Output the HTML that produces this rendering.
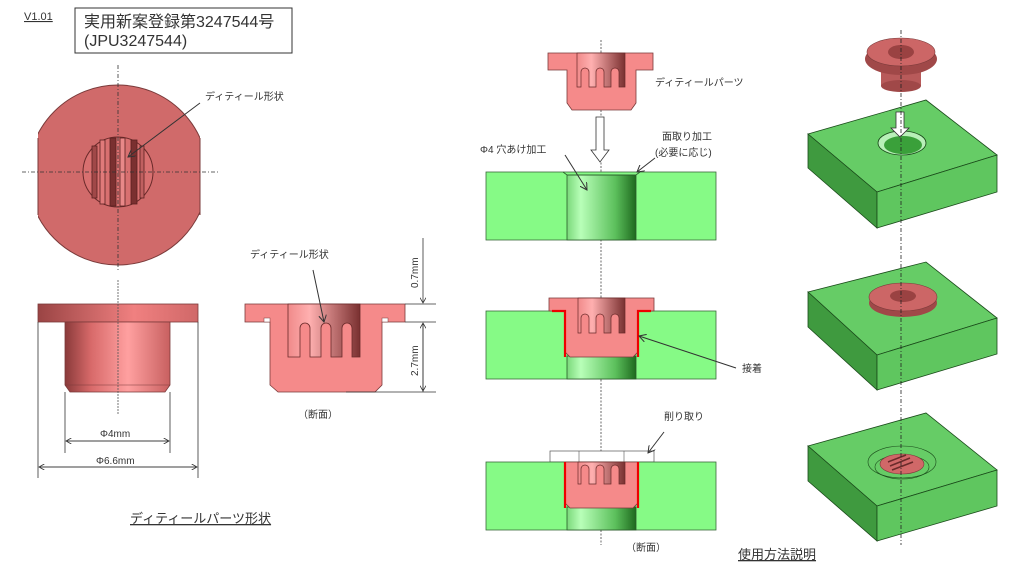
<!DOCTYPE html>
<html><head><meta charset="utf-8"><style>
html,body{margin:0;padding:0;background:#fff;}
svg{display:block;}
text{font-family:"Liberation Sans","Noto Sans CJK JP",sans-serif;fill:#333;}
</style></head><body>
<svg width="1024" height="576" viewBox="0 0 1024 576" xmlns="http://www.w3.org/2000/svg">
<defs>
<linearGradient id="cylR" x1="0" x2="1" y1="0" y2="0">
<stop offset="0" stop-color="#8a3a3a"/><stop offset="0.25" stop-color="#d86a6a"/><stop offset="0.6" stop-color="#ffa0a0"/><stop offset="1" stop-color="#c86060"/></linearGradient>
<linearGradient id="flR" x1="0" x2="1"><stop offset="0" stop-color="#9a4444"/><stop offset="0.6" stop-color="#f08080"/><stop offset="1" stop-color="#d06868"/></linearGradient>
<linearGradient id="inR" x1="0" x2="1"><stop offset="0" stop-color="#f08a8a"/><stop offset="0.3" stop-color="#ffb0b0"/><stop offset="1" stop-color="#7a3030"/></linearGradient>
<linearGradient id="cylG" x1="0" x2="1"><stop offset="0" stop-color="#7ad87a"/><stop offset="0.2" stop-color="#b8ffb8"/><stop offset="0.7" stop-color="#5cc05c"/><stop offset="1" stop-color="#1e6a1e"/></linearGradient>
<clipPath id="topclip"><rect x="38" y="60" width="162" height="220"/></clipPath>
<marker id="ah" markerWidth="8" markerHeight="8" refX="7" refY="4" orient="auto"><path d="M0,0 L7,4 L0,8" fill="none" stroke="#333" stroke-width="1"/></marker>
</defs>

<!-- header -->
<text x="24" y="20" font-size="11" text-decoration="underline" fill="#444">V1.01</text>
<rect x="75" y="8" width="217" height="45" fill="#fff" stroke="#333" stroke-width="1"/>
<text x="84" y="27" font-size="16" fill="#222">実用新案登録第3247544号</text>
<text x="84" y="46" font-size="16" fill="#222">(JPU3247544)</text>

<!-- top view -->
<circle cx="118" cy="175" r="90" fill="#d06a6a" stroke="#7a3a3a" stroke-width="1" clip-path="url(#topclip)"/>
<line x1="38" y1="138" x2="38" y2="215" stroke="#7a3a3a"/><line x1="200" y1="138" x2="200" y2="215" stroke="#7a3a3a"/>
<circle cx="118" cy="172" r="35" fill="#d87070" stroke="#6a2a2a"/>
<g fill="#b05050" stroke="#5a2020" stroke-width="0.8">
<rect x="92" y="146" width="5" height="52" fill="#a04848"/><rect x="100" y="140" width="5" height="64" fill="#e07a7a"/>
<rect x="110" y="138" width="6" height="68" fill="#7a3030"/><rect x="120" y="138" width="5" height="68" fill="#e88888"/>
<rect x="131" y="140" width="6" height="64" fill="#7a3030"/><rect x="140" y="146" width="4" height="52" fill="#c06060"/>
</g>
<line x1="118" y1="65" x2="118" y2="270" stroke="#333" stroke-dasharray="4,2,1,2" stroke-width="0.8"/>
<line x1="22" y1="172" x2="218" y2="172" stroke="#333" stroke-dasharray="4,2,1,2" stroke-width="0.8"/>
<text x="205" y="100" font-size="10">ディティール形状</text>
<line x1="200" y1="103" x2="128" y2="157" stroke="#333" marker-end="url(#ah)"/>

<!-- side view -->
<rect x="38" y="304" width="160" height="18" fill="url(#flR)" stroke="#7a3a3a" stroke-width="0.8"/>
<path d="M65,322 H170 V385 L165,392 H70 L65,385 Z" fill="url(#cylR)" stroke="#7a3a3a" stroke-width="0.8"/>
<line x1="65" y1="385" x2="170" y2="385" stroke="#7a3a3a" stroke-width="0.6"/>
<line x1="118" y1="280" x2="118" y2="415" stroke="#555" stroke-dasharray="2,1" stroke-width="0.8"/>
<g stroke="#333" stroke-width="0.8">
<line x1="65" y1="392" x2="65" y2="453"/><line x1="170" y1="392" x2="170" y2="453"/>
<line x1="38" y1="322" x2="38" y2="478"/><line x1="198" y1="322" x2="198" y2="478"/>
<line x1="66" y1="441" x2="169" y2="441" marker-end="url(#ah)"/><line x1="169" y1="441" x2="66" y2="441" marker-end="url(#ah)"/>
<line x1="39" y1="467" x2="197" y2="467" marker-end="url(#ah)"/><line x1="197" y1="467" x2="39" y2="467" marker-end="url(#ah)"/>
</g>
<text x="100" y="437" font-size="10">Φ4mm</text>
<text x="96" y="464" font-size="10">Φ6.6mm</text>

<!-- section view -->
<path d="M245,304 H405 V322 H382 V385 L375,392 H278 L270,385 V322 H245 Z" fill="#f58a8a" stroke="#7a3a3a" stroke-width="0.8"/>
<rect x="264" y="318" width="6" height="4" fill="#fff" stroke="#7a3a3a" stroke-width="0.5"/>
<rect x="382" y="318" width="6" height="4" fill="#fff" stroke="#7a3a3a" stroke-width="0.5"/>
<path d="M288,304 H360 V357 H352 V328 a5,5 0 0 0 -10,0 V357 H331 V328 a5,5 0 0 0 -10,0 V357 H310 V328 a5,5 0 0 0 -10,0 V357 H288 Z" fill="url(#inR)" stroke="#6a2a2a" stroke-width="0.8"/>
<text x="250" y="258" font-size="10">ディティール形状</text>
<line x1="313" y1="270" x2="324" y2="322" stroke="#333" marker-end="url(#ah)"/>
<g stroke="#333" stroke-width="0.8">
<line x1="405" y1="304" x2="436" y2="304"/><line x1="405" y1="322" x2="436" y2="322"/><line x1="346" y1="392" x2="436" y2="392"/>
<line x1="423" y1="238" x2="423" y2="303" marker-end="url(#ah)"/>
<line x1="423" y1="392" x2="423" y2="323" marker-end="url(#ah)"/><line x1="423" y1="323" x2="423" y2="391" marker-end="url(#ah)"/>
</g>
<text transform="translate(418,288) rotate(-90)" font-size="10">0.7mm</text>
<text transform="translate(418,376) rotate(-90)" font-size="10">2.7mm</text>
<text x="298" y="418" font-size="10">（断面）</text>
<text x="130" y="523" font-size="13" text-decoration="underline" fill="#222">ディティールパーツ形状</text>

<!-- middle column -->
<line x1="601" y1="40" x2="601" y2="545" stroke="#444" stroke-dasharray="2,1.5" stroke-width="0.8"/>
<path d="M548,53 H653 V70 H636 V103 L631,110 H572 L567,103 V70 H548 Z" fill="#f58a8a" stroke="#7a3a3a" stroke-width="0.8"/>
<path d="M577,53 H625 V87 H619 V72 a4,4 0 0 0 -8,0 V87 H604 V72 a4,4 0 0 0 -8,0 V87 H589 V72 a4,4 0 0 0 -8,0 V87 H577 Z" fill="url(#inR)" stroke="#6a2a2a" stroke-width="0.7"/>
<text x="655" y="86" font-size="10">ディティールパーツ</text>
<path d="M596,117 H604 V150 H609 L600,162 L591,150 H596 Z" fill="#fff" stroke="#333" stroke-width="0.8"/>
<rect x="486" y="172" width="230" height="68" fill="#86fa86" stroke="#3a6a3a" stroke-width="0.8"/>
<rect x="567" y="175" width="69" height="65" fill="url(#cylG)" stroke="#2a5a2a" stroke-width="0.8"/>
<path d="M563,172 L567,175 H636 L640,172" fill="none" stroke="#2a5a2a" stroke-width="0.8"/>
<text x="480" y="153" font-size="10">Φ4 穴あけ加工</text>
<line x1="565" y1="155" x2="587" y2="190" stroke="#333" marker-end="url(#ah)"/>
<text x="662" y="140" font-size="10">面取り加工</text>
<text x="655" y="156" font-size="10">(必要に応じ)</text>
<line x1="655" y1="158" x2="637" y2="172" stroke="#333" marker-end="url(#ah)"/>

<!-- block 2 -->
<rect x="486" y="311" width="230" height="68" fill="#86fa86" stroke="#3a6a3a" stroke-width="0.8"/>
<rect x="567" y="356" width="69" height="23" fill="url(#cylG)" stroke="#2a5a2a" stroke-width="0.8"/>
<path d="M549,298 H654 V311 H638 V352 L633,357 H570 L565,352 V311 H549 Z" fill="#f58a8a" stroke="#7a3a3a" stroke-width="0.8"/>
<path d="M552,311 H565 V357" fill="none" stroke="#e00" stroke-width="2.2"/>
<path d="M651,311 H638 V357" fill="none" stroke="#e00" stroke-width="2.2"/>
<path d="M578,298 H625 V333 H619 V318 a4,4 0 0 0 -8,0 V333 H604 V318 a4,4 0 0 0 -8,0 V333 H589 V318 a4,4 0 0 0 -8,0 V333 H578 Z" fill="url(#inR)" stroke="#6a2a2a" stroke-width="0.7"/>
<text x="742" y="372" font-size="10">接着</text>
<line x1="736" y1="368" x2="639" y2="336" stroke="#333" marker-end="url(#ah)"/>

<!-- block 3 -->
<rect x="550" y="451" width="104" height="11" fill="#fff" stroke="#555" stroke-width="0.7"/>
<line x1="579" y1="451" x2="579" y2="462" stroke="#555" stroke-width="0.6"/><line x1="624" y1="451" x2="624" y2="462" stroke="#555" stroke-width="0.6"/>
<rect x="486" y="462" width="230" height="68" fill="#86fa86" stroke="#3a6a3a" stroke-width="0.8"/>
<rect x="567" y="507" width="69" height="23" fill="url(#cylG)" stroke="#2a5a2a" stroke-width="0.8"/>
<path d="M565,462 H638 V503 L633,508 H570 L565,503 Z" fill="#f58a8a" stroke="#7a3a3a" stroke-width="0.8"/>
<path d="M565,462 V508 M638,462 V508" fill="none" stroke="#e00" stroke-width="2.2"/>
<path d="M578,462 H625 V484 H619 V469 a4,4 0 0 0 -8,0 V484 H604 V469 a4,4 0 0 0 -8,0 V484 H589 V469 a4,4 0 0 0 -8,0 V484 H578 Z" fill="url(#inR)" stroke="#6a2a2a" stroke-width="0.7"/>
<text x="664" y="420" font-size="10">削り取り</text>
<line x1="664" y1="432" x2="648" y2="453" stroke="#333" marker-end="url(#ah)"/>
<text x="626" y="551" font-size="10">（断面）</text>
<text x="738" y="559" font-size="13" text-decoration="underline" fill="#222">使用方法説明</text>

<!-- right column isometric -->
<g stroke="#1a4a1a" stroke-width="0.8">
<polygon points="808,134 926,100 997,155 877,192" fill="#66cc66"/>
<polygon points="808,134 877,192 877,228 808,168" fill="#3f9a3f"/>
<polygon points="877,192 997,155 997,192 877,228" fill="#5fc65f"/>
<polygon points="808,292 926,262 997,318 877,355" fill="#66cc66"/>
<polygon points="808,292 877,355 877,390 808,327" fill="#3f9a3f"/>
<polygon points="877,355 997,318 997,354 877,390" fill="#5fc65f"/>
<polygon points="808,446 926,413 997,470 877,506" fill="#66cc66"/>
<polygon points="808,446 877,506 877,541 808,481" fill="#3f9a3f"/>
<polygon points="877,506 997,470 997,506 877,541" fill="#5fc65f"/>
</g>
<ellipse cx="902" cy="143" rx="24" ry="12" fill="#b8f0b8" stroke="#1a4a1a" stroke-width="0.8"/>
<ellipse cx="903" cy="145" rx="19" ry="9" fill="#3aa03a"/>
<!-- top part -->
<rect x="881" y="64" width="40" height="22" fill="#b85a5a"/>
<ellipse cx="901" cy="86" rx="20" ry="6" fill="#a04848"/>
<ellipse cx="901" cy="59" rx="36" ry="16" fill="#a04848"/>
<ellipse cx="901" cy="52" rx="34" ry="14" fill="#cc6666" stroke="#7a3a3a" stroke-width="0.6"/>
<ellipse cx="901" cy="52" rx="13" ry="7" fill="#9a4242"/>
<path d="M896,112 H904 V128 H909 L900,137 L891,128 H896 Z" fill="#fff" stroke="#333" stroke-width="0.8"/>
<!-- block2 part -->
<ellipse cx="903" cy="303" rx="34" ry="14" fill="#a04848"/>
<ellipse cx="903" cy="297" rx="34" ry="14" fill="#cc6666" stroke="#7a3a3a" stroke-width="0.6"/>
<ellipse cx="903" cy="296" rx="13" ry="6" fill="#9a4242"/>
<!-- block3 part -->
<ellipse cx="902" cy="462" rx="34" ry="16" fill="none" stroke="#1a4a1a" stroke-width="0.6"/>
<ellipse cx="902" cy="467" rx="27" ry="12" fill="none" stroke="#1a4a1a" stroke-width="0.6"/>
<ellipse cx="902" cy="464" rx="22" ry="10" fill="#d06868" stroke="#7a3a3a" stroke-width="0.6"/>
<g stroke="#6a2a2a" stroke-width="1.5"><line x1="890" y1="466" x2="910" y2="458"/><line x1="892" y1="470" x2="913" y2="462"/><line x1="888" y1="462" x2="906" y2="455"/></g>
<line x1="901" y1="30" x2="901" y2="545" stroke="#222" stroke-dasharray="4,2,1,2" stroke-width="0.8"/>
</svg>
</body></html>
